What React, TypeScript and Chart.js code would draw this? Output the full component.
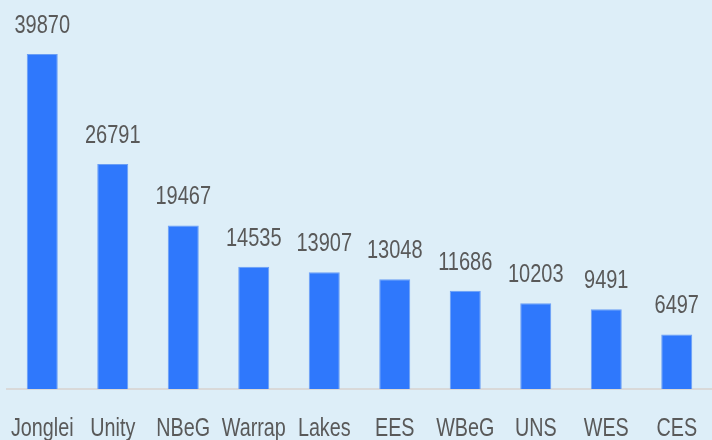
import React, { useEffect, useRef } from "react";
import { Chart, registerables } from "chart.js";

Chart.register(...registerables);

const categories = ["Jonglei", "Unity", "NBeG", "Warrap", "Lakes", "EES", "WBeG", "UNS", "WES", "CES"];
const values = [39870, 26791, 19467, 14535, 13907, 13048, 11686, 10203, 9491, 6497];

const FONT = "'Liberation Sans', Arial, sans-serif";
const TEXT = "#595959";

function drawNarrow(ctx: CanvasRenderingContext2D, text: string, x: number, y: number, size: number, sx: number) {
  ctx.save();
  ctx.font = `${size}px ${FONT}`;
  ctx.fillStyle = TEXT;
  ctx.textAlign = "center";
  ctx.textBaseline = "alphabetic";
  ctx.translate(x, y);
  ctx.scale(sx, 1);
  ctx.fillText(text, 0, 0);
  ctx.restore();
}

const labelsPlugin = {
  id: "labelsPlugin",
  afterDatasetsDraw(chart: any) {
    const { ctx } = chart;
    const meta = chart.getDatasetMeta(0);
    meta.data.forEach((bar: any, i: number) => {
      drawNarrow(ctx, String(values[i]), bar.x, bar.y - 21, 25, 0.8);
      drawNarrow(ctx, categories[i], bar.x, 436, 26, 0.76);
    });
  },
};

export default function App() {
  const ref = useRef<HTMLCanvasElement>(null);
  useEffect(() => {
    const chart = new Chart(ref.current!, {
      type: "bar",
      data: {
        labels: categories,
        datasets: [
          {
            data: values,
            backgroundColor: "#2f78fc",
            borderColor: "#6a9ef5",
            borderWidth: 1,
            categoryPercentage: 1,
            barPercentage: 0.44,
          },
        ],
      },
      options: {
        animation: false,
        responsive: false,
        maintainAspectRatio: false,
        layout: { padding: { left: 7, right: 0, top: 0, bottom: 0 } },
        plugins: { legend: { display: false }, tooltip: { enabled: false } },
        scales: {
          y: { display: false, min: 0, max: 46293 },
          x: {
            grid: { display: false },
            border: { display: true, color: "#d9d9d9", width: 2 },
            ticks: { display: false },
            afterFit(scale: any) {
              scale.height = 51;
            },
          },
        },
      },
      plugins: [labelsPlugin],
    });
    return () => chart.destroy();
  }, []);
  return (
    <div style={{ position: "fixed", left: 0, top: 0, width: 712, height: 440, background: "#ddeef8" }}>
      <canvas ref={ref} width={712} height={440} style={{ display: "block" }} />
    </div>
  );
}
